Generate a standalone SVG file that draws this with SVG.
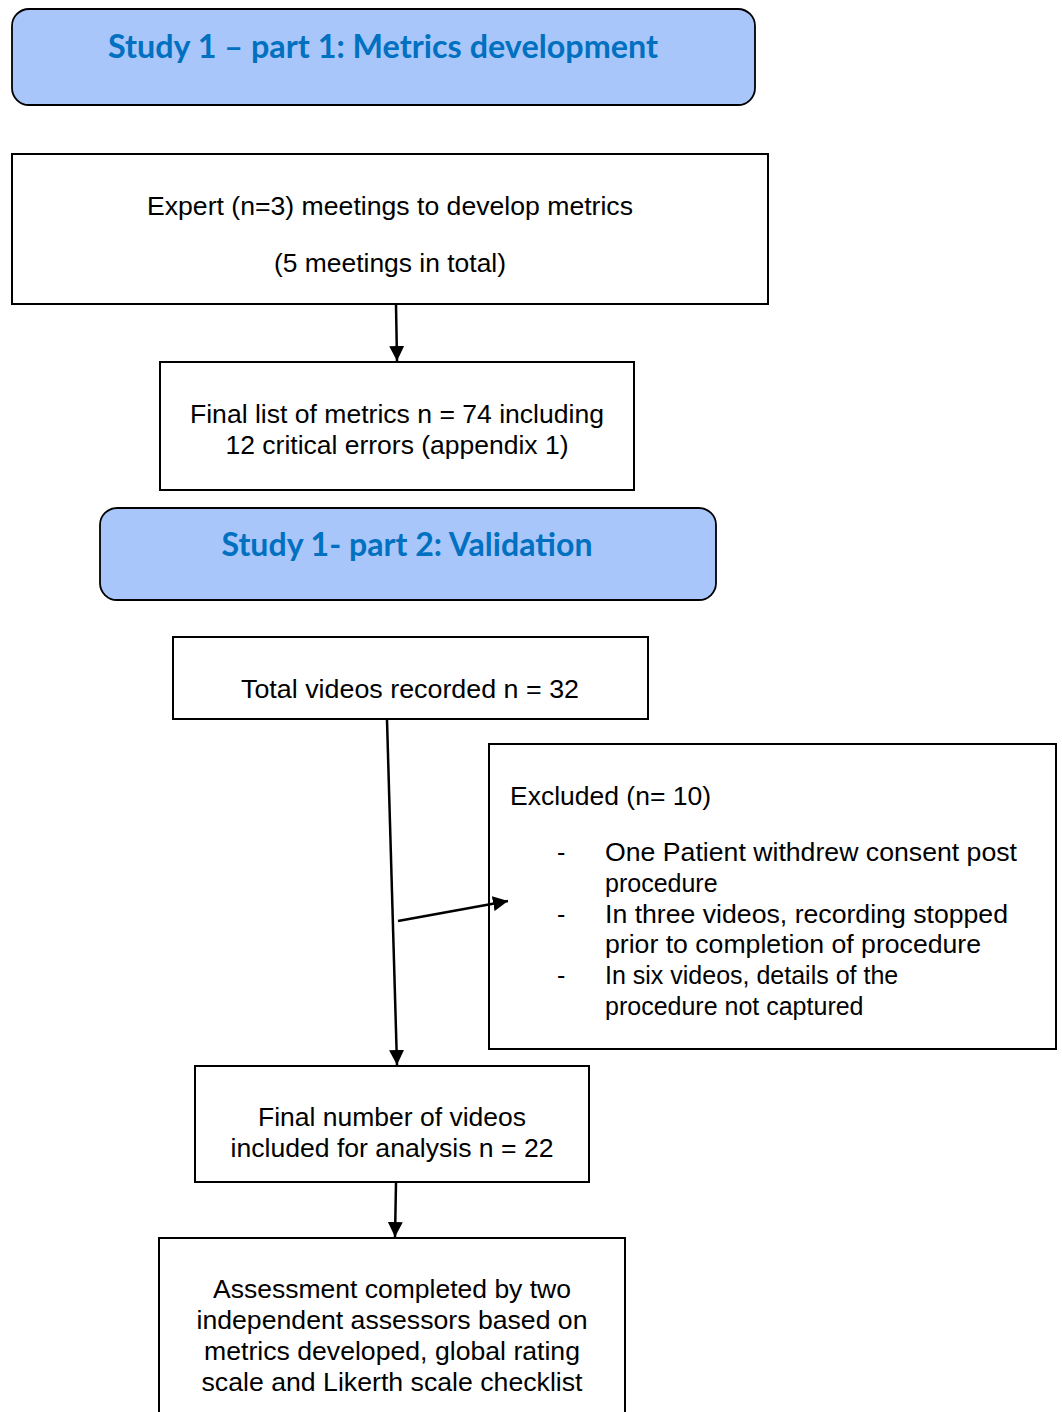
<svg xmlns="http://www.w3.org/2000/svg" width="1062" height="1412" viewBox="0 0 1062 1412">
<defs>
<style>
.hdr{fill:#A8C6FA;stroke:#000;stroke-width:1.8}
.box{fill:#fff;stroke:#000;stroke-width:2}
.ht{font-family:Lato,"Open Sans",sans-serif;font-weight:bold;font-size:32px;fill:#0070C0;text-anchor:middle}
.t{font-family:"Liberation Sans",Arial,sans-serif;font-size:25px;fill:#000}
.c{text-anchor:middle}
.ln{stroke:#000;stroke-width:2.5;fill:none}
</style>
<marker id="ah" viewBox="0 0 10 10" refX="10" refY="5" markerWidth="6" markerHeight="6" markerUnits="strokeWidth" orient="auto">
<path d="M0,0 L10,5 L0,10 z" fill="#000"/>
</marker>
</defs>
<rect width="1062" height="1412" fill="#fff"/>
<g id="header1">
<rect class="hdr" x="12" y="9" width="743" height="96" rx="17"/>
<text class="ht" x="383" y="58" textLength="550" lengthAdjust="spacingAndGlyphs">Study 1 – part 1: Metrics development</text>
</g>
<g id="expert">
<rect class="box" x="12" y="154" width="756" height="150"/>
<text class="t c" x="390" y="215" textLength="486" lengthAdjust="spacingAndGlyphs">Expert (n=3) meetings to develop metrics</text>
<text class="t c" x="390" y="272" textLength="232" lengthAdjust="spacingAndGlyphs">(5 meetings in total)</text>
</g>
<g id="final-list">
<rect class="box" x="160" y="362" width="474" height="128"/>
<text class="t c" x="397" y="423" textLength="414" lengthAdjust="spacingAndGlyphs">Final list of metrics n = 74 including</text>
<text class="t c" x="397" y="454" textLength="343" lengthAdjust="spacingAndGlyphs">12 critical errors (appendix 1)</text>
</g>
<g id="header2">
<rect class="hdr" x="100" y="508" width="616" height="92" rx="17"/>
<text class="ht" x="407" y="556" textLength="371" lengthAdjust="spacingAndGlyphs">Study 1- part 2: Validation</text>
</g>
<g id="total-videos">
<rect class="box" x="173" y="637" width="475" height="82"/>
<text class="t c" x="410" y="698" textLength="338" lengthAdjust="spacingAndGlyphs">Total videos recorded n = 32</text>
</g>
<g id="excluded">
<rect class="box" x="489" y="744" width="567" height="305"/>
<text class="t" x="510" y="805" textLength="201" lengthAdjust="spacingAndGlyphs">Excluded (n= 10)</text>
<text class="t" x="557" y="861">-</text>
<text class="t" x="605" y="861" textLength="412" lengthAdjust="spacingAndGlyphs">One Patient withdrew consent post</text>
<text class="t" x="605" y="892">procedure</text>
<text class="t" x="557" y="923">-</text>
<text class="t" x="605" y="923" textLength="403" lengthAdjust="spacingAndGlyphs">In three videos, recording stopped</text>
<text class="t" x="605" y="953" textLength="376" lengthAdjust="spacingAndGlyphs">prior to completion of procedure</text>
<text class="t" x="557" y="984">-</text>
<text class="t" x="605" y="984">In six videos, details of the</text>
<text class="t" x="605" y="1015">procedure not captured</text>
</g>
<g id="final-number">
<rect class="box" x="195" y="1066" width="394" height="116"/>
<text class="t c" x="392" y="1126" textLength="268" lengthAdjust="spacingAndGlyphs">Final number of videos</text>
<text class="t c" x="392" y="1157" textLength="323" lengthAdjust="spacingAndGlyphs">included for analysis n = 22</text>
</g>
<g id="assessment">
<rect class="box" x="159" y="1238" width="466" height="190"/>
<text class="t c" x="392" y="1298" textLength="358" lengthAdjust="spacingAndGlyphs">Assessment completed by two</text>
<text class="t c" x="392" y="1329" textLength="391" lengthAdjust="spacingAndGlyphs">independent assessors based on</text>
<text class="t c" x="392" y="1360" textLength="376" lengthAdjust="spacingAndGlyphs">metrics developed, global rating</text>
<text class="t c" x="392" y="1391" textLength="381" lengthAdjust="spacingAndGlyphs">scale and Likerth scale checklist</text>
</g>
<g id="connectors">
<line class="ln" x1="396" y1="305" x2="397" y2="361" marker-end="url(#ah)"/>
<line class="ln" x1="387" y1="720" x2="397" y2="1065" marker-end="url(#ah)"/>
<line class="ln" x1="398" y1="921" x2="508" y2="901" marker-end="url(#ah)"/>
<line class="ln" x1="396" y1="1183" x2="395" y2="1237" marker-end="url(#ah)"/>
</g>
</svg>
